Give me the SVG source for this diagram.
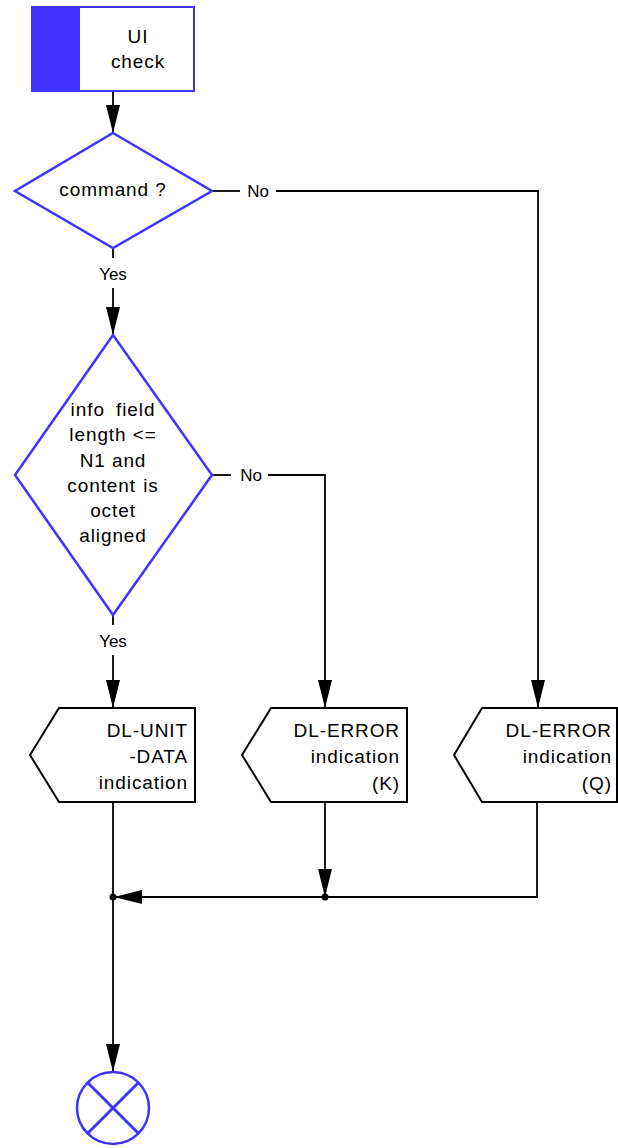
<svg xmlns="http://www.w3.org/2000/svg" width="618" height="1148" viewBox="0 0 618 1148">
<style>
.blue{fill:#fff;stroke:#4033ff;stroke-width:2.5}
.out{fill:#fff;stroke:#000;stroke-width:2}
.t{font-family:"Liberation Sans",Arial,sans-serif;font-size:19px;letter-spacing:0.9px;fill:#000}
.l{font-family:"Liberation Sans",Arial,sans-serif;font-size:17px;fill:#000;text-anchor:middle}
.c{text-anchor:middle}
.e{text-anchor:end}
.ln{fill:none;stroke:#000;stroke-width:1.8}
</style>
<defs>
<marker id="ah" markerUnits="userSpaceOnUse" markerWidth="28" markerHeight="14" refX="28" refY="7" orient="auto">
<path d="M0,0 L28,7 L0,14 z" fill="#000"/>
</marker>
</defs>
<g id="connectors">
<path class="ln" d="M113,91 V133" marker-end="url(#ah)"/>
<path class="ln" d="M113,248 V258"/>
<path class="ln" d="M113,288 V335" marker-end="url(#ah)"/>
<path class="ln" d="M212,191 H240"/>
<path class="ln" d="M276,191 H538 V708" marker-end="url(#ah)"/>
<path class="ln" d="M212,475 H231"/>
<path class="ln" d="M268,475 H325 V708" marker-end="url(#ah)"/>
<path class="ln" d="M113,615 V625"/>
<path class="ln" d="M113,655 V708" marker-end="url(#ah)"/>
<path class="ln" d="M113,802 V1072" marker-end="url(#ah)"/>
<path class="ln" d="M325,802 V897" marker-end="url(#ah)"/>
<path class="ln" d="M537,802 V897 H114" marker-end="url(#ah)"/>
<circle cx="113" cy="897" r="3.5" fill="#000"/>
<circle cx="325" cy="897" r="3.5" fill="#000"/>
<text class="l" x="258" y="197">No</text>
<text class="l" x="113" y="280">Yes</text>
<text class="l" x="251" y="481">No</text>
<text class="l" x="113" y="647">Yes</text>
</g>
<g id="start">
<rect x="32" y="7" width="162" height="84" fill="#fff" stroke="#4033ff" stroke-width="2"/>
<rect x="32" y="7" width="48" height="84" fill="#4033ff"/>
<text class="t c" x="138" y="43">UI</text>
<text class="t c" x="138" y="68">check</text>
</g>
<g id="command">
<polygon class="blue" points="113,133 212,191 113,248 15,191"/>
<text class="t c" x="113" y="196">command ?</text>
</g>
<g id="infofield">
<polygon class="blue" points="113,335 212,475 113,615 15,475"/>
<text class="t c" x="113" y="416" word-spacing="5">info field</text>
<text class="t c" x="113" y="441">length &lt;=</text>
<text class="t c" x="113" y="467">N1 and</text>
<text class="t c" x="113" y="492" word-spacing="1">content is</text>
<text class="t c" x="113" y="517">octet</text>
<text class="t c" x="113" y="542">aligned</text>
</g>
<g id="unitdata">
<polygon class="out" points="30,755 59,708 195,708 195,802 59,802"/>
<text class="t e" x="188" y="737">DL-UNIT</text>
<text class="t e" x="188" y="763">-DATA</text>
<text class="t e" x="188" y="789">indication</text>
</g>
<g id="errorK">
<polygon class="out" points="242,755 271,708 407,708 407,802 271,802"/>
<text class="t e" x="400" y="737">DL-ERROR</text>
<text class="t e" x="400" y="763">indication</text>
<text class="t e" x="400" y="790" letter-spacing="3">(K)</text>
</g>
<g id="errorQ">
<polygon class="out" points="454,755 482,708 617,708 617,802 482,802"/>
<text class="t e" x="612" y="737">DL-ERROR</text>
<text class="t e" x="612" y="763">indication</text>
<text class="t e" x="612" y="790" letter-spacing="3">(Q)</text>
</g>
<g id="stop">
<circle cx="113" cy="1108" r="36" fill="#fff" stroke="#4033ff" stroke-width="2.5"/>
<path d="M87,1082 L139,1134 M139,1082 L87,1134" stroke="#4033ff" stroke-width="3" fill="none"/>
</g>
</svg>
